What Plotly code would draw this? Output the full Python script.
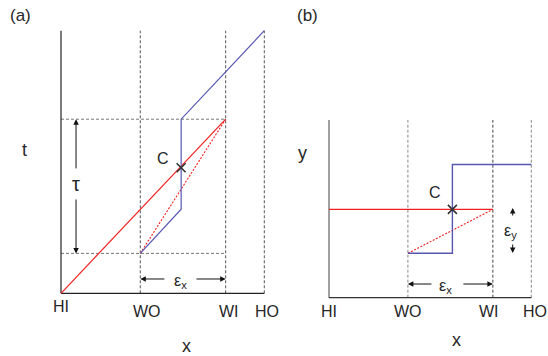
import plotly.graph_objects as go

W, H = 548, 356

# ---- data ----
x_names = ["HI", "WO", "WI", "HO"]
x_pos = [0.0, 0.39, 0.81, 1.0]

# panel (a): t vs x
a_t_lo, a_t_hi = 0.152, 0.663
a_red_x = [0.0, 0.81]
a_red_y = [0.0, 0.663]
a_reddash_x = [0.39, 0.81]
a_reddash_y = [0.152, 0.663]
a_blue_x = [0.39, 0.591, 0.591, 1.0]
a_blue_y = [0.152, 0.32, 0.663, 1.0]
a_c = (0.591, 0.478)

# panel (b): y vs x
b_red_x = [0.0, 0.81]
b_red_y = [0.497, 0.497]
b_reddash_x = [0.39, 0.81]
b_reddash_y = [0.25, 0.497]
b_blue_x = [0.39, 0.61, 0.61, 1.0]
b_blue_y = [0.25, 0.25, 0.75, 0.75]
b_c = (0.61, 0.497)

# ---- layout helpers ----
PAD = 0.03
def dom(p0, p1, total, flip=False):
    s = p1 - p0
    lo, hi = p0 - PAD * s, p1 + PAD * s
    if flip:
        return [1 - lo / total, 1 - hi / total]
    return [lo / total, hi / total]

# pixel frames (x0 at data 0, x1 at data 1; y0 at data 0, y1 at data 1)
A = dict(x0=61, x1=264.3, y0=293.3, y1=30.7)
B = dict(x0=329, x1=531.3, y0=297.7, y1=120.0)

RED = "#f22020"
BLUE = "#5656b0"
font = dict(family="Liberation Sans, Arial, sans-serif", color="#262626")

fig = go.Figure()

def line(x, y, ax, color, width=1.1, dash="solid"):
    fig.add_trace(go.Scatter(x=x, y=y, mode="lines", xaxis="x" + ax, yaxis="y" + ax,
                             line=dict(color=color, width=width, dash=dash),
                             hoverinfo="skip", showlegend=False))

# ---- panel a ----
for p in x_pos[1:]:
    line([p, p], [0, 1], "", "#555555", 1, "3px,2px")
for t in (a_t_lo, a_t_hi):
    line([0, 0.81], [t, t], "", "#777777", 1, "3px,2px")
line([0, 0], [0, 1], "", "#222222", 1.2)
line([0, 1], [0, 0], "", "#222222", 1.2)
line(a_reddash_x, a_reddash_y, "", RED, 1.1, "2px,1.5px")
line(a_red_x, a_red_y, "", RED, 1.2)
line(a_blue_x, a_blue_y, "", BLUE, 1.2)
fig.add_trace(go.Scatter(x=[a_c[0]], y=[a_c[1]], mode="markers", xaxis="x", yaxis="y",
                         marker=dict(symbol="x-thin", size=9, line=dict(color="#333333", width=1.6)),
                         showlegend=False, hoverinfo="skip"))

# ---- panel b ----
line([x_pos[1]] * 2, [0, 1], "2", "#888888", 1, "3px,2px")
line([x_pos[2]] * 2, [0, 1], "2", "#444444", 1, "3px,2px")
line([x_pos[3]] * 2, [0, 1], "2", "#888888", 1, "3px,2px")
line([0, 0], [0, 1], "2", "#777777", 1.4)
line([0, 1], [0, 0], "2", "#333333", 1.2)
line(b_reddash_x, b_reddash_y, "2", RED, 1.1, "2px,1.5px")
line(b_red_x, b_red_y, "2", RED, 1.2)
line(b_blue_x, b_blue_y, "2", BLUE, 1.4)
fig.add_trace(go.Scatter(x=[b_c[0]], y=[b_c[1]], mode="markers", xaxis="x2", yaxis="y2",
                         marker=dict(symbol="x-thin", size=9, line=dict(color="#333333", width=1.6)),
                         showlegend=False, hoverinfo="skip"))

ax_common = dict(range=[-PAD, 1 + PAD], showgrid=False, zeroline=False,
                 showticklabels=False, showline=False, ticks="", fixedrange=True)
fig.update_layout(
    width=W, height=H, margin=dict(l=0, r=0, t=0, b=0),
    paper_bgcolor="white", plot_bgcolor="white",
    xaxis=dict(domain=dom(A["x0"], A["x1"], W), anchor="y", **ax_common),
    yaxis=dict(domain=sorted(dom(A["y0"], A["y1"], H, flip=True)), anchor="x", **ax_common),
    xaxis2=dict(domain=dom(B["x0"], B["x1"], W), anchor="y2", **ax_common),
    yaxis2=dict(domain=sorted(dom(B["y0"], B["y1"], H, flip=True)), anchor="x2", **ax_common),
    font=font,
)

ann = []
def text(s, x, y, ax, size=16, xs=0, ys=0):
    ann.append(dict(text=s, x=x, y=y, xref="x" + ax, yref="y" + ax, showarrow=False,
                    font=dict(size=size, **font), xshift=xs, yshift=ys))

def ptext(s, px, py, size=16):
    ann.append(dict(text=s, x=px / W, y=1 - py / H, xref="paper", yref="paper",
                    showarrow=False, font=dict(size=size, **font),
                    xanchor="center", yanchor="middle"))

def arrow(x, y, tx, ty, ax):
    ann.append(dict(text="", x=x, y=y, ax=tx, ay=ty, xref="x" + ax, yref="y" + ax,
                    axref="x" + ax, ayref="y" + ax, showarrow=True, arrowhead=2,
                    arrowsize=1.1, arrowwidth=1, arrowcolor="#111111"))

# panel a labels (placed below the axis in pixel space)
a_label_dx = [0, 7, 3, 3]
a_label_py = [306, 311, 311, 311]
for n, p, dx, py in zip(x_names, x_pos, a_label_dx, a_label_py):
    ptext(n, A["x0"] + p * (A["x1"] - A["x0"]) + dx, py, 16)
ptext("(a)", 20, 15, 17)
ptext("t", 24, 150, 18)
ptext("x", 186, 346, 18)
text("C", 0.502, 0.515, "", 16)
text("τ", 0.074, 0.415, "", 20)
arrow(0.074, a_t_hi, 0.074, 0.47, "")
arrow(0.074, a_t_lo, 0.074, 0.363, "")
arrow(0.39, 0.0545, 0.516, 0.0545, "")
arrow(0.81, 0.0545, 0.659, 0.0545, "")
text("ε<sub>x</sub>", 0.587, 0.045, "", 16)

# panel b labels
b_label_dx = [0, 0, -4, 4]
for n, p, dx in zip(x_names, x_pos, b_label_dx):
    ptext(n, B["x0"] + p * (B["x1"] - B["x0"]) + dx, 311, 16)
ptext("(b)", 307, 15, 17)
ptext("y", 302, 153, 18)
ptext("x", 456, 340, 18)
text("C", 0.524, 0.591, "2", 16)
arrow(0.908, 0.505, 0.908, 0.454, "2")
arrow(0.908, 0.252, 0.908, 0.308, "2")
text("ε<sub>y</sub>", 0.897, 0.375, "2", 16)
arrow(0.39, 0.077, 0.514, 0.077, "2")
arrow(0.81, 0.077, 0.657, 0.077, "2")
text("ε<sub>x</sub>", 0.575, 0.065, "2", 16)

fig.update_layout(annotations=ann)
fig.write_html("out.html", config={"displayModeBar": False},
               post_script="document.body.style.margin='0';")
